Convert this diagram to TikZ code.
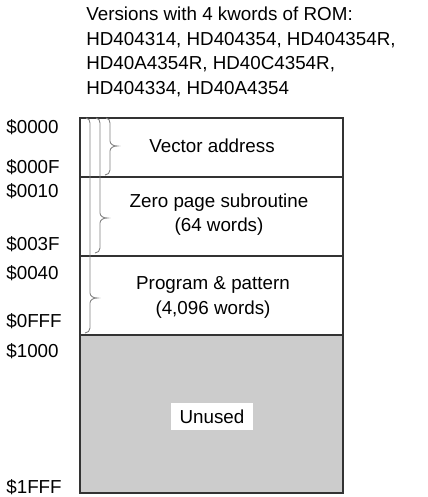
\documentclass[tikz,border=0pt]{standalone}
\usepackage{fontspec}
\setmainfont{Liberation Sans}
\usepackage{tikz}

\newcommand{\rombrace}[4]{% x, top, tip, bottom
 \draw[gray,line width=.5pt] (#1-4,#2) to[out=0,in=90] (#1,#2+5) -- (#1,#3-5)
  to[out=-90,in=180] (#1+7,#3) to[out=180,in=90] (#1,#3+5) -- (#1,#4-5)
  to[out=-90,in=0] (#1-5,#4);}

\begin{document}
\begin{tikzpicture}[x=0.02cm,y=-0.02cm,font=\fontsize{10.7}{13.9}\selectfont]
%%%%%memory map starts here
\def\xl{80}
\def\xr{343}
\def\xm{212}
\useasboundingbox (0,0) rectangle (427,497);

\node[anchor=north west,align=left,inner sep=0] (versions) at (86,7)
 {Versions with 4 kwords of ROM:\\HD404314, HD404354, HD404354R,\\HD40A4354R, HD40C4354R,\\HD404334, HD40A4354};

\fill[black!20] (\xl,335) rectangle (\xr,493);
\draw[black!80,line width=.8pt] (\xl,118) rectangle (\xr,493);
\foreach \y in {177,256,335} \draw[black!80,line width=.8pt] (\xl,\y) -- (\xr,\y);

\foreach \a/\y [count=\i] in {0000/133,000F/173,0010/197.5,003F/250,0040/279,0FFF/327,1000/357,1FFF/493}
 \node[anchor=base west,inner sep=0] (addr\i) at (6,\y) {\$\a};

\node[anchor=base] (vector) at (\xm,152.5) {Vector address};
% base of a two-line node sits on its last line
\node[anchor=base,align=center] (zero) at (\xm+7,231.5) {Zero page subroutine\\(64 words)};
\node[anchor=base,align=center] (program) at (\xm+1,314) {Program \& pattern\\(4,096 words)};
\node[fill=white,inner xsep=5pt,inner ysep=4pt] (unused) at (\xm,416.5) {Unused};

\foreach \x/\t/\b in {110/146/175,100/218/253,90/298/333} {\rombrace{\x}{118}{\t}{\b}}
%%%%%memory map ends here
\end{tikzpicture}
\end{document}
